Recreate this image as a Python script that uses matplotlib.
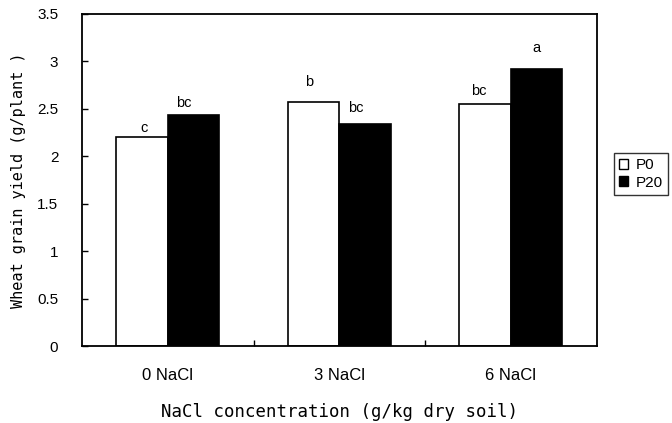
import numpy as np
import matplotlib
matplotlib.use("Agg")
import matplotlib.pyplot as plt
from matplotlib.patches import Patch

plt.rcParams['font.family'] = ['Liberation Sans', 'DejaVu Sans']

# data
groups = ["0 NaCl", "3 NaCl", "6 NaCl"]
p0 = [2.20, 2.57, 2.55]
p20 = [2.44, 2.34, 2.92]
p0_letters = ["c", "b", "bc"]
p20_letters = ["bc", "bc", "a"]

# label offsets (points) as placed in the original
p0_off = [(1.5, 6.5), (-3.5, 14.5), (-4.5, 9.5)]
p20_off = [(-7, 8.5), (-6.5, 11.5), (0, 15)]

fig = plt.figure(figsize=(6.72, 4.23), dpi=100)
ax = fig.add_axes([0.122, 0.182, 0.766, 0.785])

x = np.arange(len(groups))
w = 0.3
ax.bar(x - w/2, p0, w, color="white", edgecolor="black", linewidth=1.2, label="P0")
ax.bar(x + w/2, p20, w, color="black", edgecolor="black", linewidth=1.2, label="P20")

for i in range(len(groups)):
    ax.annotate(p0_letters[i], (x[i] - w/2, p0[i]), xytext=p0_off[i],
                textcoords="offset points", ha="center", va="center", fontsize=10.5)
    ax.annotate(p20_letters[i], (x[i] + w/2, p20[i]), xytext=p20_off[i],
                textcoords="offset points", ha="center", va="center", fontsize=10.5)

ax.set_xlim(-0.5, 2.5)
ax.set_ylim(0, 3.5)
ax.set_yticks([0, 0.5, 1, 1.5, 2, 2.5, 3, 3.5])
ax.set_yticklabels(["0", "0.5", "1", "1.5", "2", "2.5", "3", "3.5"])
ax.set_xticks(x)
ax.set_xticklabels(groups)
ax.set_xticks([0.5, 1.5], minor=True)

ax.tick_params(axis="x", which="major", length=0, pad=16, labelsize=12)
ax.tick_params(axis="x", which="minor", direction="in", length=4, width=1)
ax.tick_params(axis="y", direction="in", length=4, width=1, pad=17, labelsize=11)

for s in ax.spines.values():
    s.set_linewidth(1.3)

ax.set_xlabel("NaCl concentration (g/kg dry soil)", fontsize=12.5,
              family="DejaVu Sans Mono", labelpad=14)
ax.set_ylabel("Wheat grain yield (g/plant )", fontsize=11,
              family="DejaVu Sans Mono", labelpad=8)

handles = [Patch(facecolor="white", edgecolor="black", linewidth=1),
           Patch(facecolor="black", edgecolor="black", linewidth=1)]
leg = fig.legend(handles, ["P0", "P20"], loc="upper left",
                 bbox_to_anchor=(0.913, 0.638), fontsize=11, frameon=True,
                 fancybox=False, handlelength=0.6, handleheight=0.6,
                 handletextpad=0.5, borderpad=0.35, labelspacing=0.2,
                 borderaxespad=0)
leg.get_frame().set_edgecolor("black")
leg.get_frame().set_linewidth(1)

fig.savefig("out.png", dpi=100)
